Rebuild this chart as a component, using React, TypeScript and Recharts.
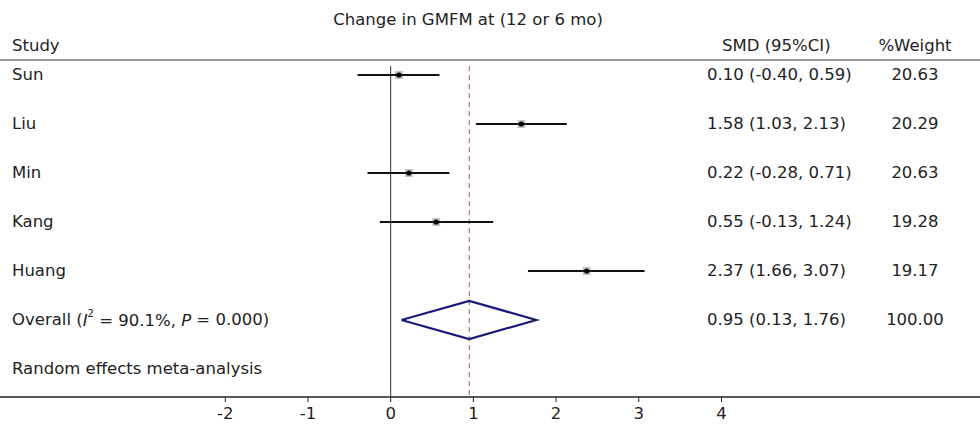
import React from "react";
import {
  ComposedChart,
  Scatter,
  ErrorBar,
  XAxis,
  YAxis,
  ReferenceLine,
} from "recharts";

const studies = ["Sun", "Liu", "Min", "Kang", "Huang"];
const smd = [0.1, 1.58, 0.22, 0.55, 2.37];
const ciLow = [-0.4, 1.03, -0.28, -0.13, 1.66];
const ciHigh = [0.59, 2.13, 0.71, 1.24, 3.07];
const weights = ["20.63", "20.29", "20.63", "19.28", "19.17"];

const overallSmd = 0.95;
const overallLow = 0.13;
const overallHigh = 1.76;
const overallWeight = "100.00";

const xTicks = [-2, -1, 0, 1, 2, 3, 4];

const FONT = "DejaVu Sans";
const FS = 16.5;
const TEXT = "#222";
const X_DOMAIN: [number, number] = [-4.724, 7.126];
const Y_DOMAIN: [number, number] = [-0.306, 6.572];
const DIAMOND_H = 0.39;

const fmt = (m: number, lo: number, hi: number) =>
  `${m.toFixed(2)} (${lo.toFixed(2)}, ${hi.toFixed(2)})`;

const studyRows = studies.map((name, i) => ({
  name,
  x: smd[i],
  y: i,
  err: [smd[i] - ciLow[i], ciHigh[i] - smd[i]],
  ci: fmt(smd[i], ciLow[i], ciHigh[i]),
  weight: weights[i],
}));

const overallRow = [
  {
    x: overallSmd,
    y: studies.length,
    ci: fmt(overallSmd, overallLow, overallHigh),
    weight: overallWeight,
  },
];

const diamond = [
  { x: overallLow, y: studies.length },
  { x: overallSmd, y: studies.length - DIAMOND_H },
  { x: overallHigh, y: studies.length },
  { x: overallSmd, y: studies.length + DIAMOND_H },
  { x: overallLow, y: studies.length },
];

const footerRow = [{ x: 0, y: studies.length + 1 }];

const rowText = (cy: number, label: React.ReactNode, ci?: string, weight?: string) => (
  <g fontFamily={FONT} fontSize={FS} fill={TEXT}>
    <text x={12} y={cy} dominantBaseline="central">
      {label}
    </text>
    {ci && (
      <text x={707} y={cy} dominantBaseline="central">
        {ci}
      </text>
    )}
    {weight && (
      <text x={915} y={cy} dominantBaseline="central" textAnchor="middle">
        {weight}
      </text>
    )}
  </g>
);

const StudyShape = (props: any) => {
  const { cx, cy, payload } = props;
  return (
    <g>
      <rect x={cx - 4} y={cy - 4} width={8} height={8} fill="#c4c4c4" />
      <line x1={cx - 4} x2={cx + 4} y1={cy} y2={cy} stroke="#111" strokeWidth={2} />
      <circle cx={cx} cy={cy} r={2.6} fill="#000" />
      {rowText(cy, payload.name, payload.ci, payload.weight)}
    </g>
  );
};

const OverallShape = (props: any) => {
  const { cy, payload } = props;
  const label = (
    <>
      Overall (<tspan fontStyle="italic">I</tspan>
      <tspan fontSize={10} dy={-7}>2</tspan>
      <tspan dy={7}> = 90.1%, </tspan>
      <tspan fontStyle="italic">P</tspan> = 0.000)
    </>
  );
  return rowText(cy, label, payload.ci, payload.weight);
};

const FooterShape = (props: any) => rowText(props.cy, "Random effects meta-analysis");

const header: React.CSSProperties = {
  position: "absolute",
  transform: "translate(-50%, -50%)",
  whiteSpace: "nowrap",
  fontFamily: FONT,
  fontSize: FS,
  color: TEXT,
  lineHeight: 1,
};

const App: React.FC = () => {
  return (
    <div
      style={{
        position: "absolute",
        left: 0,
        top: 0,
        width: 980,
        height: 427,
        background: "#fff",
      }}
    >
      <div style={{ ...header, left: 468, top: 20 }}>Change in GMFM at (12 or 6 mo)</div>
      <div style={{ ...header, left: 12, top: 46, transform: "translate(0, -50%)" }}>Study</div>
      <div style={{ ...header, left: 722, top: 46, transform: "translate(0, -50%)" }}>
        SMD (95%CI)
      </div>
      <div style={{ ...header, left: 915, top: 46 }}>%Weight</div>

      <ComposedChart
        width={980}
        height={427}
        margin={{ top: 60, right: 0, left: 0, bottom: 0 }}
      >
        <XAxis
          type="number"
          dataKey="x"
          domain={X_DOMAIN}
          ticks={xTicks}
          allowDataOverflow
          height={30}
          tickSize={5}
          tickMargin={5}
          axisLine={{ stroke: "#222", strokeWidth: 1.5 }}
          tickLine={{ stroke: "#222" }}
          tick={{ fill: TEXT, fontFamily: FONT, fontSize: FS }}
        />
        <YAxis
          type="number"
          dataKey="y"
          domain={Y_DOMAIN}
          reversed
          hide
          allowDataOverflow
        />
        <ReferenceLine
          y={Y_DOMAIN[0]}
          stroke="#999"
          strokeWidth={2}
          ifOverflow="visible"
        />
        <ReferenceLine
          segment={[
            { x: 0, y: -0.18 },
            { x: 0, y: Y_DOMAIN[1] },
          ]}
          stroke="#333"
          strokeWidth={1}
          ifOverflow="visible"
        />
        <ReferenceLine
          segment={[
            { x: overallSmd, y: -0.18 },
            { x: overallSmd, y: Y_DOMAIN[1] },
          ]}
          stroke="#a0505f"
          strokeWidth={1}
          strokeDasharray="5 4"
          ifOverflow="visible"
        />
        <Scatter data={studyRows} shape={StudyShape} isAnimationActive={false}>
          <ErrorBar
            dataKey="err"
            direction="x"
            width={0}
            stroke="#111"
            strokeWidth={2}
            isAnimationActive={false}
          />
        </Scatter>
        <Scatter
          data={diamond}
          line={{ stroke: "#1a1a78", strokeWidth: 2.2 }}
          shape={() => <g />}
          isAnimationActive={false}
        />
        <Scatter data={overallRow} shape={OverallShape} isAnimationActive={false} />
        <Scatter data={footerRow} shape={FooterShape} isAnimationActive={false} />
      </ComposedChart>
    </div>
  );
};

export default App;
